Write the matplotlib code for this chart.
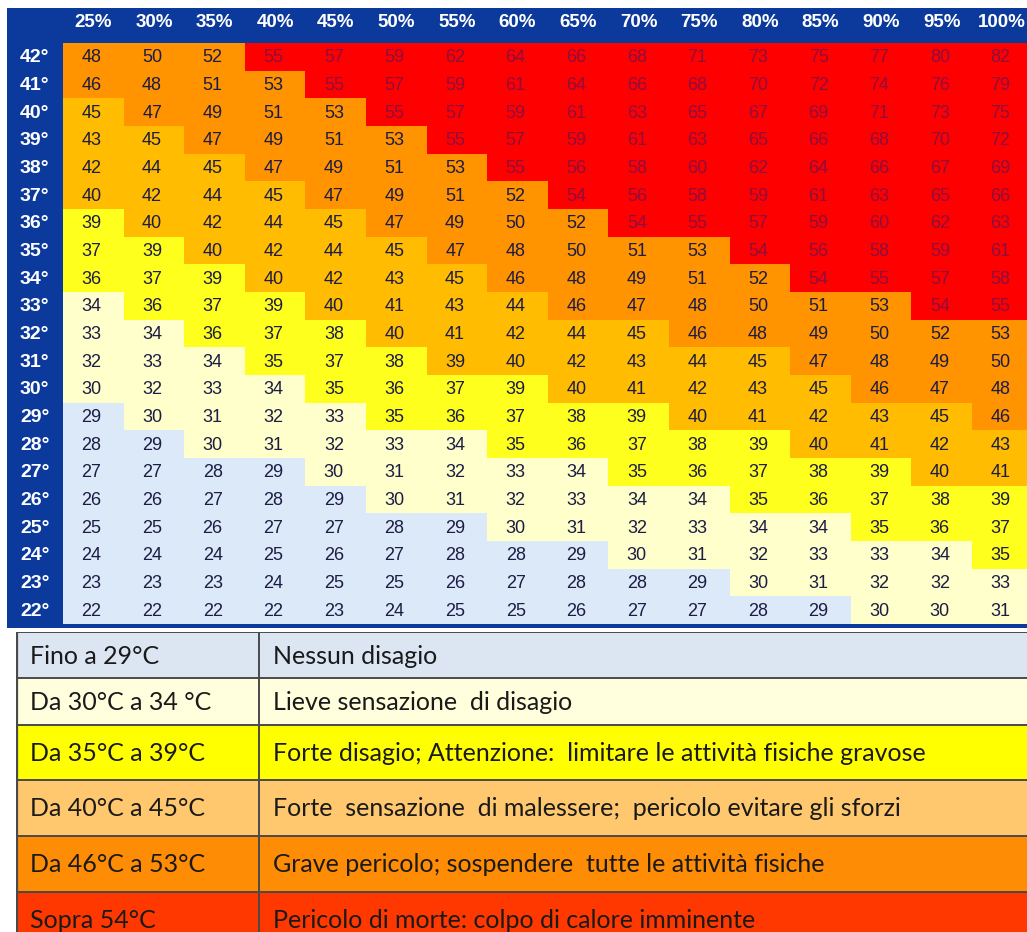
import numpy as np
import matplotlib
matplotlib.use("Agg")
import matplotlib.pyplot as plt
from matplotlib.colors import ListedColormap, BoundaryNorm
from matplotlib.patches import Rectangle

# ---------------- data ----------------
humidity = [25, 30, 35, 40, 45, 50, 55, 60, 65, 70, 75, 80, 85, 90, 95, 100]
temps = [42, 41, 40, 39, 38, 37, 36, 35, 34, 33, 32, 31, 30, 29, 28, 27, 26, 25, 24, 23, 22]
values = [
    [48, 50, 52, 55, 57, 59, 62, 64, 66, 68, 71, 73, 75, 77, 80, 82],
    [46, 48, 51, 53, 55, 57, 59, 61, 64, 66, 68, 70, 72, 74, 76, 79],
    [45, 47, 49, 51, 53, 55, 57, 59, 61, 63, 65, 67, 69, 71, 73, 75],
    [43, 45, 47, 49, 51, 53, 55, 57, 59, 61, 63, 65, 66, 68, 70, 72],
    [42, 44, 45, 47, 49, 51, 53, 55, 56, 58, 60, 62, 64, 66, 67, 69],
    [40, 42, 44, 45, 47, 49, 51, 52, 54, 56, 58, 59, 61, 63, 65, 66],
    [39, 40, 42, 44, 45, 47, 49, 50, 52, 54, 55, 57, 59, 60, 62, 63],
    [37, 39, 40, 42, 44, 45, 47, 48, 50, 51, 53, 54, 56, 58, 59, 61],
    [36, 37, 39, 40, 42, 43, 45, 46, 48, 49, 51, 52, 54, 55, 57, 58],
    [34, 36, 37, 39, 40, 41, 43, 44, 46, 47, 48, 50, 51, 53, 54, 55],
    [33, 34, 36, 37, 38, 40, 41, 42, 44, 45, 46, 48, 49, 50, 52, 53],
    [32, 33, 34, 35, 37, 38, 39, 40, 42, 43, 44, 45, 47, 48, 49, 50],
    [30, 32, 33, 34, 35, 36, 37, 39, 40, 41, 42, 43, 45, 46, 47, 48],
    [29, 30, 31, 32, 33, 35, 36, 37, 38, 39, 40, 41, 42, 43, 45, 46],
    [28, 29, 30, 31, 32, 33, 34, 35, 36, 37, 38, 39, 40, 41, 42, 43],
    [27, 27, 28, 29, 30, 31, 32, 33, 34, 35, 36, 37, 38, 39, 40, 41],
    [26, 26, 27, 28, 29, 30, 31, 32, 33, 34, 34, 35, 36, 37, 38, 39],
    [25, 25, 26, 27, 27, 28, 29, 30, 31, 32, 33, 34, 34, 35, 36, 37],
    [24, 24, 24, 25, 26, 27, 28, 28, 29, 30, 31, 32, 33, 33, 34, 35],
    [23, 23, 23, 24, 25, 25, 26, 27, 28, 28, 29, 30, 31, 32, 32, 33],
    [22, 22, 22, 22, 23, 24, 25, 25, 26, 27, 27, 28, 29, 30, 30, 31],
]
# class boundaries of the legend
bounds = [0, 29.5, 34.5, 39.5, 45.5, 53.5, 200]
cell_colors = ['#DCE9F8', '#FFFFCC', '#FFFF1E', '#FFBC00', '#FF9300', '#FF0000']
# cells whose shading in the original differs from their value class: (temp, humidity) -> class
shade_overrides = {(31, 55): 3}

legend_range = ["Fino a 29°C", "Da 30°C a 34 °C", "Da 35°C a 39°C",
                "Da 40°C a 45°C", "Da 46°C a 53°C", "Sopra 54°C"]
legend_text = ["Nessun disagio",
               "Lieve sensazione  di disagio",
               "Forte disagio; Attenzione:  limitare le attività fisiche gravose",
               "Forte  sensazione  di malessere;  pericolo evitare gli sforzi",
               "Grave pericolo; sospendere  tutte le attività fisiche",
               "Pericolo di morte: colpo di calore imminente"]
legend_colors = ['#DCE6F2', '#FFFFDD', '#FFFF00', '#FFC86E', '#FF8C05', '#FF3800']

# ---------------- figure ----------------
W, H = 1027, 932
fig = plt.figure(figsize=(W / 100, H / 100), dpi=100)
fig.patch.set_facecolor('white')

BLUE = '#0C3A9C'
colw, rowh = 60.6, 27.67
x0, y0 = 63, 43       # top-left of data cells in px
fl, ft, fb = 7, 8, 628  # frame left/top/bottom in px

vals = np.array(values, dtype=float)
levels = np.digitize(vals, bounds[1:-1])
for (t, h), lv in shade_overrides.items():
    levels[temps.index(t), humidity.index(h)] = lv

ax = fig.add_axes([fl / W, 1 - fb / H, (W - fl) / W, (fb - ft) / H])
ax.set_facecolor(BLUE)
ax.set_xlim(-(x0 - fl) / colw, (W - x0) / colw)
ax.set_ylim(len(temps) + (fb - (y0 + rowh * len(temps))) / rowh, -(y0 - ft) / rowh)
for s in ax.spines.values():
    s.set_visible(False)
ax.set_xticks([])
ax.set_yticks([])

cmap = ListedColormap(cell_colors)
norm = BoundaryNorm(np.arange(-0.5, len(cell_colors) + 0.5, 1), cmap.N)
ax.pcolormesh(np.arange(len(humidity) + 1), np.arange(len(temps) + 1), levels,
              cmap=cmap, norm=norm, shading='flat')

num_font = dict(family=['Liberation Sans', 'DejaVu Sans'])
for i, t in enumerate(temps):
    for j, h in enumerate(humidity):
        v = values[i][j]
        col = '#8E0E3E' if levels[i, j] == 5 else '#1C1C44'
        ax.text(j + 0.47, i + 0.53, str(v), ha='center', va='center',
                fontsize=13, color=col, **num_font)
    ax.text(-(x0 - fl) / colw + 13 / colw, i + 0.53, f"{t}°", ha='left', va='center',
            fontsize=14, color='white', fontweight='bold', **num_font)
for j, h in enumerate(humidity):
    ax.text(j + 0.5, -(y0 - ft) / rowh / 2 - 0.1, f"{h}%", ha='center', va='center',
            fontsize=13.5, color='white', fontweight='bold', **num_font)

# ---------------- legend table ----------------
lx0, ly0 = 16, 632
row_edges = [0, 46, 93, 148, 204, 260, 316]
div_x = 259 - lx0
lax = fig.add_axes([lx0 / W, 0, (W - lx0) / W, (H - ly0) / H])
lax.set_xlim(0, W - lx0)
lax.set_ylim(H - ly0, 0)
lax.axis('off')
leg_font = dict(family=['Lato', 'DejaVu Sans'])
for k in range(len(legend_range)):
    top, bot = row_edges[k], row_edges[k + 1]
    lax.add_patch(Rectangle((0, top), W, bot - top, facecolor=legend_colors[k],
                            edgecolor='none', zorder=1))
    yc = (top + bot) / 2 + 1
    lax.text(14, yc, legend_range[k], ha='left', va='center', fontsize=18,
             color='#1A1A1A', zorder=3, **leg_font)
    lax.text(div_x + 14, yc, legend_text[k], ha='left', va='center', fontsize=18,
             color='#1A1A1A', zorder=3, **leg_font)
    lax.plot([0, W], [top, top], color='#4A4A4A', lw=1.4, zorder=2, solid_capstyle='butt')
lax.plot([1, 1], [0, H], color='#4A4A4A', lw=1.6, zorder=2)
lax.plot([div_x, div_x], [0, H], color='#4A4A4A', lw=1.4, zorder=2)

fig.savefig('out.png', dpi=100)
